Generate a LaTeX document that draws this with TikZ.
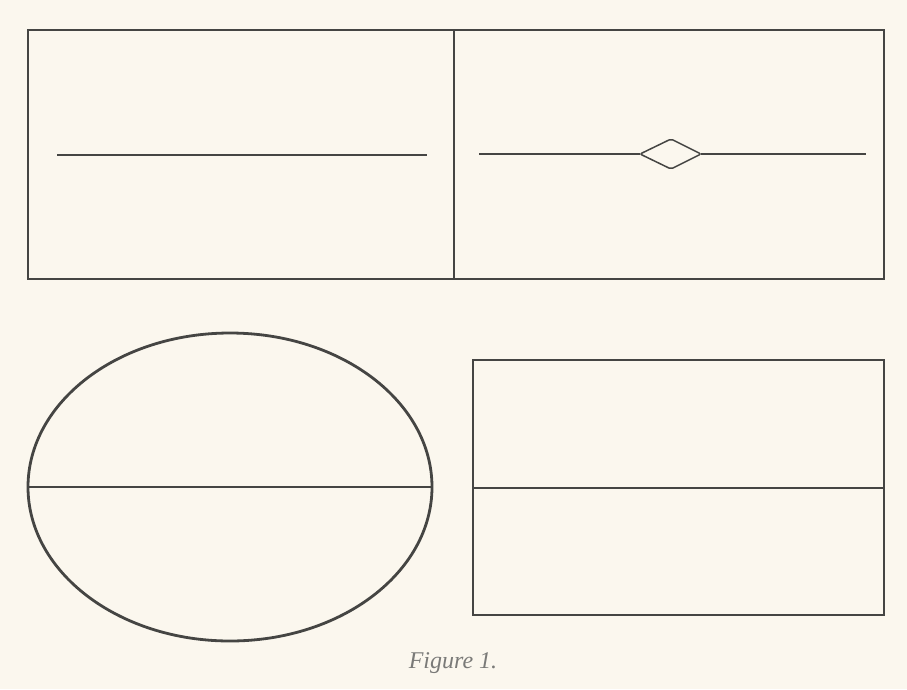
\documentclass[tikz,border=0pt]{standalone}
\usepackage{fontspec}
\setmainfont{Liberation Serif}
\definecolor{paper}{HTML}{FBF7EE}
\definecolor{ink}{HTML}{454543}
\definecolor{capink}{HTML}{7A7A78}
\begin{document}
\begin{tikzpicture}[x=1pt,y=-1pt,
  heavy/.style={draw=ink,line width=2.8pt,line join=miter},
  thin/.style={draw=ink,line width=1.5pt}]
\fill[paper] (0,0) rectangle (907,689);
\useasboundingbox (0,0) rectangle (907,689);
% top panel
\draw[heavy] (28,30) rectangle (884,279);
\draw[heavy] (454,30) -- (454,279);
\coordinate (la) at (57,155);
\coordinate (lb) at (427,155);
\draw[thin] (la) -- (lb);
\coordinate (ra) at (479,154);
\coordinate (dl) at (640,154);
\coordinate (dt) at (671,139);
\coordinate (dr) at (701,154);
\coordinate (db) at (671,169);
\coordinate (rb) at (866,154);
\draw[thin] (ra) -- (dl);
\draw[thin,rounded corners=2pt] (dl) -- (dt) -- (dr) -- (db) -- cycle;
\draw[thin] (dr) -- (rb);
% ellipse
\draw[heavy] (230,487) ellipse [x radius=202, y radius=154];
\draw[thin] (28,487) -- (432,487);
% bottom right rect
\draw[heavy] (473,360) rectangle (884,615);
\draw[thin] (473,488) -- (884,488);
% caption
\node[text=capink,font=\itshape\fontsize{24}{28}\selectfont] (cap) at (453,663) {Figure 1.};
\end{tikzpicture}
\end{document}
